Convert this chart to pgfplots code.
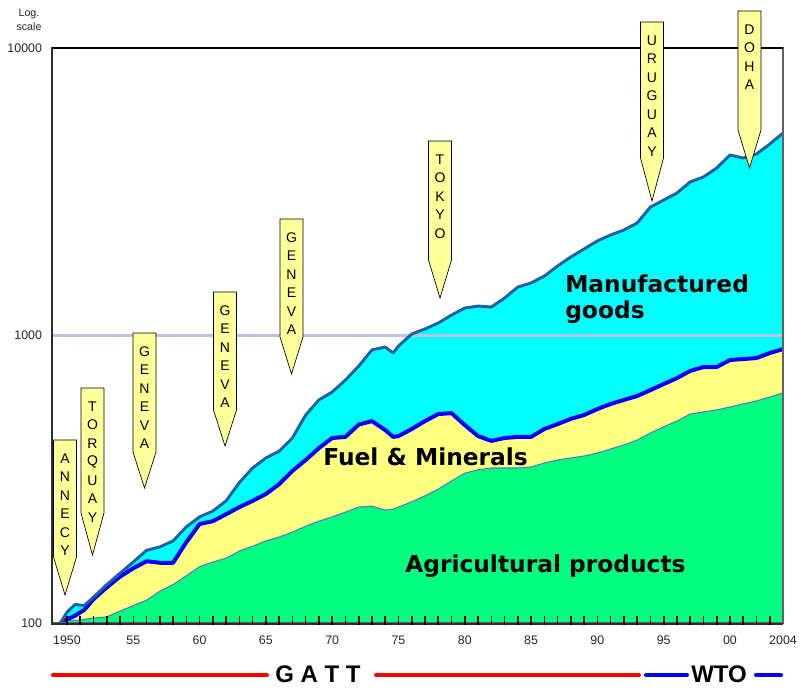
\documentclass[border=0pt]{standalone}
\usepackage{pgfplots}
\pgfplotsset{compat=1.18}
\usepackage{pgfplotstable}
\usepackage{fontspec}
\setmainfont{Liberation Sans}
\newfontfamily\labfont{DejaVu Sans}

\definecolor{agrifill}{RGB}{0,255,128}
\definecolor{fuelfill}{RGB}{255,255,128}
\definecolor{manufill}{RGB}{0,255,255}
\definecolor{totline}{RGB}{30,95,165}
\definecolor{agriline}{RGB}{80,120,200}
\definecolor{gridc}{RGB}{185,195,228}
\definecolor{callc}{RGB}{255,255,153}
\definecolor{framec}{RGB}{45,45,45}

% index values, 1950 = 100 (log scale)
\pgfplotstableread{
year   total fuel agri
1949.5 100   100  100
1950   109   103  102
1950.6 116   106  102
1951.3 115   111  103
1952   123   121  104
1953   136   133  105
1954   149   145  110
1955   163   155  115
1956   179   164  120
1957   184   162  129
1958   193   162  136
1959   216   191  146
1960   234   221  157
1961   245   226  163
1962   266   239  168
1963   308   253  178
1964   346   266  185
1965   375   281  193
1966   396   304  199
1967   440   338  207
1968   529   369  217
1969   597   406  226
1970   636   440  234
1971   700   444  243
1972   783   490  253
1973   891   504  255
1974   912   469  247
1974.6 869   444  249
1975   919   447  253
1976   1012  473  264
1977   1054  504  277
1978   1105  533  292
1979   1178  537  312
1980   1246  488  332
1981   1266  447  341
1982   1256  430  346
1983   1350  440  346
1984   1474  444  346
1985   1523  444  349
1986   1610  473  360
1987   1745  492  369
1988   1876  513  375
1989   2000  529  381
1990   2133  555  390
1991   2237  578  403
1992   2328  597  416
1993   2462  616  433
1994   2798  646  458
1995   2959  678  481
1996   3130  711  504
1997   3421  753  533
1998   3560  777  542
1999   3826  777  551
2000   4244  822  564
2001   4142  828  578
2002   4278  835  592
2003   4634  869  611
2004   5060  897  631
}\tradedata

% callout: x centre, top, shoulder, tip, letters (pixel coordinates)
\newcommand{\callout}[5]{%
  \draw[black, line width=0.5pt, fill=callc, line join=miter]
    (#1-11.5,#2) -- (#1+11.5,#2) -- (#1+11.5,#3) -- (#1,#4) -- (#1-11.5,#3) -- cycle;
  \foreach \l [count=\i] in {#5}
    \node[font=\fontsize{10.5}{12}\selectfont, inner sep=0pt] at (#1,#2+18.5*\i) {\l};
}

\begin{document}
\begin{tikzpicture}
\useasboundingbox (0,0) rectangle (603.75pt,515.25pt);
\begin{axis}[
    at={(39pt,48pt)}, anchor=south west,
    scale only axis,
    width=548.25pt, height=431.25pt,
    xmin=1948.87, xmax=2004,
    ymode=log, ymin=100, ymax=10000,
    axis on top,
    axis line style={framec!75, line width=1pt},
    xtick={1950,1955,...,2000,2004},
    xticklabels={1950,55,60,65,70,75,80,85,90,95,00,2004},
    xtick pos=left, ytick pos=left,
    tick style={draw=none},
    ytick={100,1000,10000},
    yticklabels={100,1000,10000},
    /pgf/number format/assume math mode=true,
    tick label style={font=\fontsize{9.3}{10}\selectfont, text=black!85},
    x tick label style={yshift=-6pt},
    y tick label style={xshift=-4pt},
]
% stacked areas (cumulative boundaries)
\addplot[fill=manufill, draw=none] table[x=year, y=total] {\tradedata} \closedcycle;
\addplot[fill=fuelfill, draw=none] table[x=year, y=fuel] {\tradedata} \closedcycle;
\addplot[fill=agrifill, draw=none] table[x=year, y=agri] {\tradedata} \closedcycle;

% 1000 line
\draw[gridc, line width=1.6pt] (rel axis cs:0,0.5) -- (rel axis cs:1,0.5);

\addplot[agriline, line width=0.8pt, line join=round] table[x=year, y=agri] {\tradedata};
\addplot[blue, line width=3pt, line join=round] table[x=year, y=fuel] {\tradedata};
\addplot[totline, line width=2.2pt, line join=round] table[x=year, y=total] {\tradedata};
\end{axis}

\begin{scope}[x=0.75pt, y=-0.75pt, yshift=515.25pt]
% frame and yearly ticks
\draw[black, line width=2.2pt] (51,48) -- (783,48);
\draw[framec, line width=2.2pt] (52,47) -- (52,624);
\draw[framec, line width=2pt] (51,624) -- (783,624);
\foreach \i in {0,...,53}
  \draw[black, line width=1.2pt] (67+13.26*\i,625) -- (67+13.26*\i,616);

\node[font=\fontsize{8}{10}\selectfont, text=black!85, align=center, inner sep=0pt]
  at (29,20) {Log.\\[1pt]scale};

% rounds of negotiations
\callout{65}{440}{557}{595}{A,N,N,E,C,Y}
\callout{92.5}{388}{513}{555}{T,O,R,Q,U,A,Y}
\callout{144.5}{333}{452}{488}{G,E,N,E,V,A}
\callout{225}{292}{410}{446}{G,E,N,E,V,A}
\callout{291.5}{219}{337}{374}{G,E,N,E,V,A}
\callout{440}{141}{260}{298}{T,O,K,Y,O}
\callout{652}{22}{158}{201}{U,R,U,G,U,A,Y}
\callout{749.5}{11}{130}{168}{D,O,H,A}

% area labels
\node[font=\labfont\bfseries\fontsize{17.5}{20}\selectfont, anchor=base west, inner sep=0pt]
  at (565,292) {Manufactured};
\node[font=\labfont\bfseries\fontsize{17.5}{20}\selectfont, anchor=base west, inner sep=0pt]
  at (565,318) {goods};
\node[font=\labfont\bfseries\fontsize{17.5}{20}\selectfont, anchor=base west, inner sep=0pt]
  at (323,465) {Fuel \& Minerals};
\node[font=\labfont\bfseries\fontsize{17.5}{20}\selectfont, anchor=base west, inner sep=0pt]
  at (405,572) {Agricultural products};

% GATT / WTO bar
\draw[red, line width=3pt, line cap=round] (53,675) -- (267,675);
\draw[red, line width=3pt, line cap=round] (376,675) -- (639,675);
\draw[blue, line width=3pt, line cap=round] (646,675) -- (687,675);
\draw[blue, line width=3pt, line cap=round] (756,675) -- (781,675);
\node[font=\bfseries\fontsize{18}{20}\selectfont, anchor=base west, inner sep=0pt]
  at (275,682) {G A T T};
\node[font=\bfseries\fontsize{18}{20}\selectfont, anchor=base west, inner sep=0pt]
  at (691,682) {WTO};
\end{scope}
\end{tikzpicture}
\end{document}
